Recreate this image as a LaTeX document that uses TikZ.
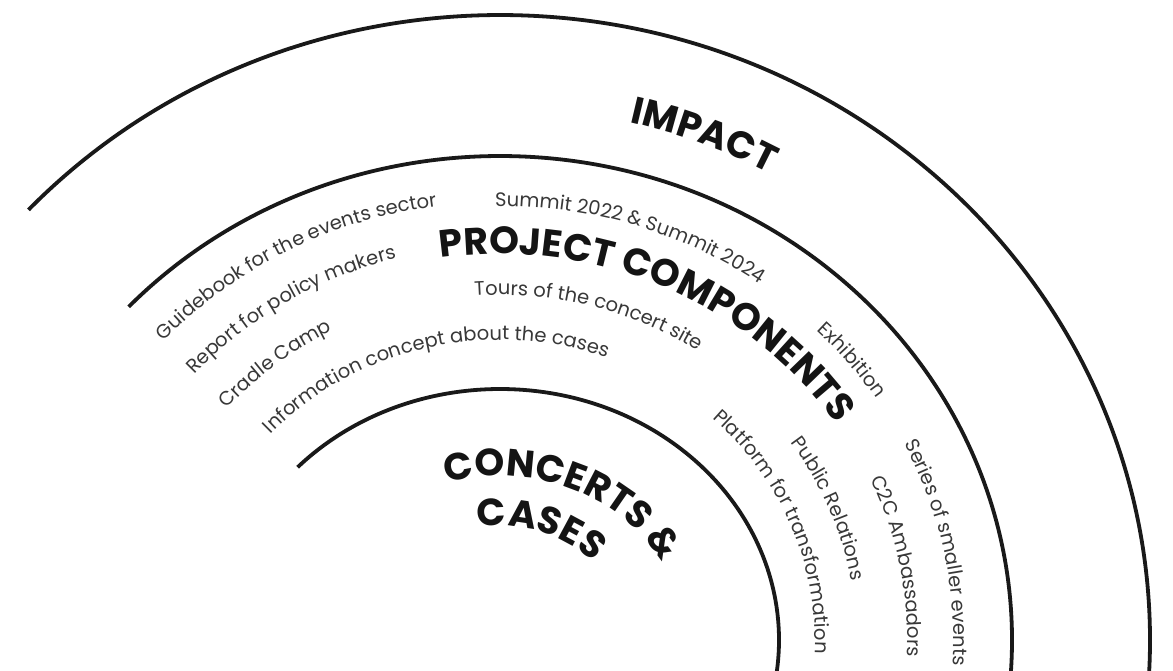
\documentclass[tikz,border=0pt]{standalone}
\usepackage{fontspec}
\setmainfont{Poppins}
\usetikzlibrary{decorations.text}

\newcommand{\itemstyle}{\fontsize{19.5}{22}\selectfont\color{black!78}}
\newcommand{\headstyle}{\fontsize{38}{42}\selectfont\bfseries\color{black!92}}

\begin{document}
\begin{tikzpicture}[x=1pt,y=1pt,
  ringdecorate/.style={line width=3.8pt,black!90},
  itemdecorate/.style={decorate,decoration={text along path,text align=left,
      text/.expanded={|\noexpand\itemstyle|#1}}},
  headdecorate/.style={decorate,decoration={text along path,text align=left,
      text/.expanded={|\noexpand\headstyle|#1}}}]
\useasboundingbox (0,0) rectangle (1173,670);
\clip (0,0) rectangle (1173,670);
\coordinate (hub) at (500,30);
%% rings
\foreach \rx/\ry in {650/625, 512/484, 279/251} {
  \draw[ringdecorate] (hub) ++(136.5:{\rx} and {\ry})
    arc[start angle=136.5, end angle=-15, x radius=\rx, y radius=\ry];
}
%% component labels
\foreach \bandradius/\startangle/\itemtext in {
  438/137/Guidebook for the events sector, 394/137.7/Report for policy makers,
  348/138.4/Cradle Camp, 300/136.7/Information concept about the cases,
  434/90.6/Summit 2022 {\&} Summit 2024, 345/94/Tours of the concert site,
  432/45.8/Exhibition, 432/27/Series of smaller events,
  388/24.5/C2C Ambassadors, 340/35.5/Public Relations,
  300/47.7/Platform for transformation} {
  \path[itemdecorate=\itemtext] (hub) ++(\startangle:{1.05*\bandradius} and {\bandradius})
    arc[start angle=\startangle, end angle=\startangle-170,
        x radius={1.05*\bandradius}, y radius=\bandradius];
}
%% ring titles
\foreach \bandradius/\stretch/\startangle/\headtext in {
  532/1.05/76.6/IMPACT, 386/1.05/98.4/PROJECT COMPONENTS,
  164/1.12/106.8/CONCERTS {\&}, 114/1.12/99.9/CASES} {
  \path[headdecorate=\headtext] (hub) ++(\startangle:{\stretch*\bandradius} and {\bandradius})
    arc[start angle=\startangle, end angle=\startangle-170,
        x radius={\stretch*\bandradius}, y radius=\bandradius];
}
\end{tikzpicture}
\end{document}
